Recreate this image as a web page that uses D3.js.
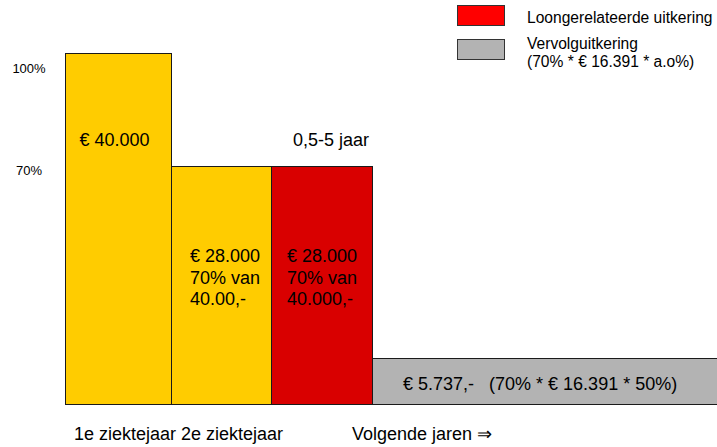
<!DOCTYPE html>
<html>
<head>
<meta charset="utf-8">
<script src="https://cdn.jsdelivr.net/npm/d3@7"></script>
<style>
  body { margin: 0; background: #fff; }
  text { font-family: 'Liberation Sans', Arial, sans-serif; fill: #000; }
</style>
</head>
<body>
<div id="chart"></div>
<script>
// segment edges along the time axis (arbitrary period units)
const edges = [0, 1.06, 2.06, 3.07, 6.6];
// bar heights as share of the first-year salary (%)
const heights = [100, 67.8, 67.8, 13.1];
const barColors = ['#ffcc00', '#ffcc00', '#d90000', '#b3b3b3'];
const barLabels = [
  ['€ 40.000'],
  ['€ 28.000', '70% van', '40.00,-'],
  ['€ 28.000', '70% van', '40.000,-'],
  []
];
const grayLabel = '€ 5.737,-   (70% * € 16.391 * 50%)';
const periodLabels = ['1e ziektejaar', '2e ziektejaar', '', 'Volgende jaren ⇒'];
const levelTicks = [100, 70];
const levelValues = [95.8, 66.7];
const legendLabels = [['Loongerelateerde uitkering'], ['Vervolguitkering', '(70% * € 16.391 * a.o%)']];
const legendColors = ['#ff0000', '#b3b3b3'];

const W = 717;
const H = 447;

const svg = d3.select('#chart').append('svg')
  .attr('width', W)
  .attr('height', H);

const x = d3.scaleLinear().domain([0, 6.52]).range([65, 717]);
const y = d3.scaleLinear().domain([0, 100]).range([404, 53]);

const bars = heights.map((h, i) => ({ x0: edges[i], x1: edges[i + 1], h, color: barColors[i], lines: barLabels[i] }));

svg.selectAll('rect.bar')
  .data(bars)
  .enter().append('rect')
  .attr('class', 'bar')
  .attr('x', d => x(d.x0) + 0.5)
  .attr('y', d => Math.round(y(d.h)) + 0.5)
  .attr('width', d => x(d.x1) - x(d.x0))
  .attr('height', d => Math.round(y(0)) - Math.round(y(d.h)))
  .attr('fill', d => d.color)
  .attr('stroke', '#1a1a1a')
  .attr('stroke-width', 1);

// labels inside bars
bars.forEach((d, i) => {
  if (!d.lines.length) return;
  const t = svg.append('text')
    .attr('font-size', 18);
  const base = i === 0 ? 145.5 : 262;
  d.lines.forEach((l, k) => {
    t.append('tspan')
      .attr('x', x(d.x0) + (i === 0 ? 14.5 : (i === 1 ? 19 : 16)))
      .attr('y', base + k * 21.7)
      .text(l);
  });
});

// text in the grey bar
svg.append('text')
  .attr('font-size', 18)
  .attr('xml:space', 'preserve')
  .style('white-space', 'pre')
  .attr('x', x(edges[3]) + 31)
  .attr('y', 390)
  .text(grayLabel);

// period label above the red bar
svg.append('text')
  .attr('font-size', 18)
  .attr('x', x(edges[2]) + 22)
  .attr('y', 146)
  .text('0,5-5 jaar');

// labels below the bars
svg.selectAll('text.period')
  .data(periodLabels)
  .enter().append('text')
  .attr('class', 'period')
  .attr('font-size', 18)
  .attr('x', (d, i) => [74, 181, 0, 352][i])
  .attr('y', 440)
  .text(d => d);

// level labels on the left
svg.selectAll('text.level')
  .data(levelTicks)
  .enter().append('text')
  .attr('class', 'level')
  .attr('font-size', 13)
  .attr('text-anchor', 'middle')
  .attr('x', 29)
  .attr('y', (d, i) => y(levelValues[i]) + 5)
  .text(d => d + '%');

// legend
const legend = svg.append('g').attr('transform', 'translate(457, 0)');
legendLabels.forEach((lines, i) => {
  const top = i === 0 ? 5.5 : 39.5;
  legend.append('rect')
    .attr('x', 0.5)
    .attr('y', top)
    .attr('width', 47)
    .attr('height', 20)
    .attr('fill', legendColors[i])
    .attr('stroke', '#333');
  const t = legend.append('text').attr('font-size', 15.6);
  lines.forEach((l, k) => {
    t.append('tspan')
      .attr('x', 70)
      .attr('y', (i === 0 ? 23 : 48.5) + k * 18)
      .text(l);
  });
});
</script>
</body>
</html>
